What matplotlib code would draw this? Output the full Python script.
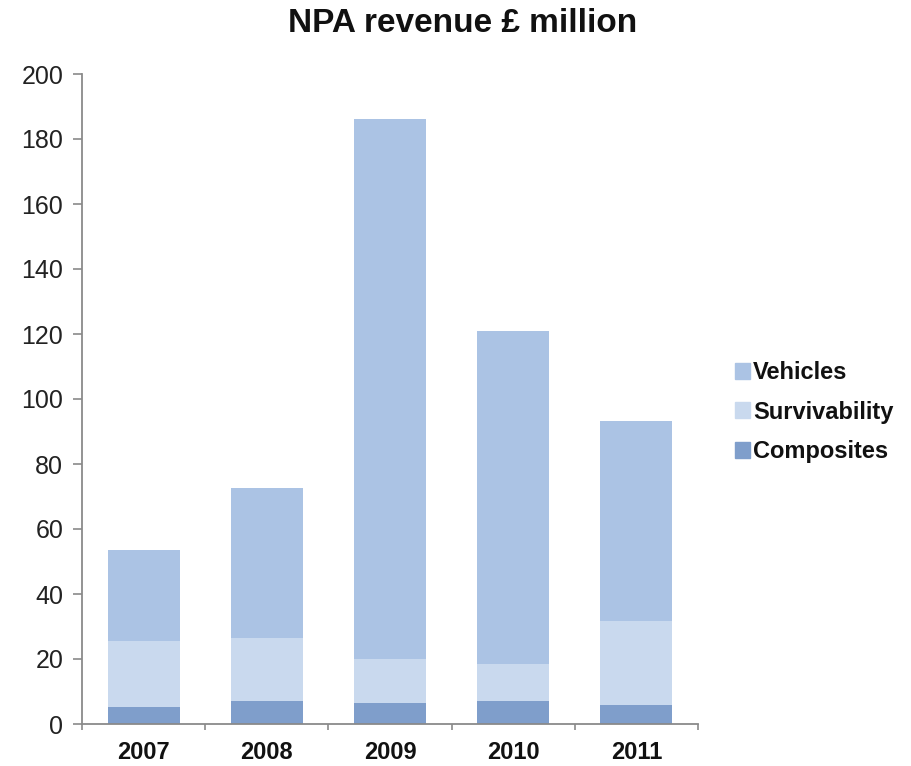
import numpy as np
import matplotlib
matplotlib.use("Agg")
import matplotlib.pyplot as plt
from matplotlib.patches import Patch

plt.rcParams['font.family'] = ['Liberation Sans', 'DejaVu Sans']

years = ['2007', '2008', '2009', '2010', '2011']
composites = [5.3, 7.2, 6.6, 7.1, 6.0]
survivability = [20.3, 19.2, 13.4, 11.5, 25.6]
vehicles = [27.9, 46.2, 166.1, 102.2, 61.5]

c_veh = '#abc3e4'
c_surv = '#c9d9ee'
c_comp = '#7f9ecb'
axis_grey = '#8a8a8a'

fig = plt.figure(figsize=(9.12, 7.66), dpi=100)
ax = fig.add_axes([82 / 912, 42 / 766, 616 / 912, 650 / 766])

x = np.arange(len(years))
w = 0.585
comp = np.array(composites)
surv = np.array(survivability)
veh = np.array(vehicles)
ax.bar(x, comp, w, color=c_comp, linewidth=0)
ax.bar(x, surv, w, bottom=comp, color=c_surv, linewidth=0)
ax.bar(x, veh, w, bottom=comp + surv, color=c_veh, linewidth=0)

ax.set_xlim(-0.5, len(years) - 0.5)
ax.set_ylim(0, 200)
ax.set_yticks(np.arange(0, 201, 20))

# tick marks sit between categories, labels sit under bar centres
ax.set_xticks(np.arange(len(years) + 1) - 0.5)
ax.set_xticklabels([])
ax.set_xticks(x, minor=True)
ax.set_xticklabels(years, minor=True, fontsize=17, fontweight='bold')
ax.tick_params(axis='x', which='major', direction='out', length=4.5,
               width=1.2, color=axis_grey)
ax.tick_params(axis='x', which='minor', length=0, pad=12, labelcolor='#111111')
ax.tick_params(axis='y', direction='out', length=6.5, width=1.2,
               color=axis_grey, labelsize=18, pad=7, labelcolor='#222222')

for s in ['top', 'right']:
    ax.spines[s].set_visible(False)
for s in ['left', 'bottom']:
    ax.spines[s].set_color(axis_grey)
    ax.spines[s].set_linewidth(1.3)

fig.text(463 / 912, 1 - 24 / 766, 'NPA revenue £ million', ha='center',
         va='center', fontsize=24, fontweight='bold', color='#111111')

handles = [Patch(color=c_veh, label='Vehicles'),
           Patch(color=c_surv, label='Survivability'),
           Patch(color=c_comp, label='Composites')]
leg = fig.legend(handles=handles, loc='center left',
                 bbox_to_anchor=(735 / 912, 1 - 412 / 766), frameon=False,
                 borderpad=0, borderaxespad=0, handlelength=0.65,
                 handleheight=0.65, handletextpad=0.12, labelspacing=0.7,
                 prop={'size': 17, 'weight': 'bold'})
for t in leg.get_texts():
    t.set_color('#111111')

fig.savefig('out.png', dpi=100)
